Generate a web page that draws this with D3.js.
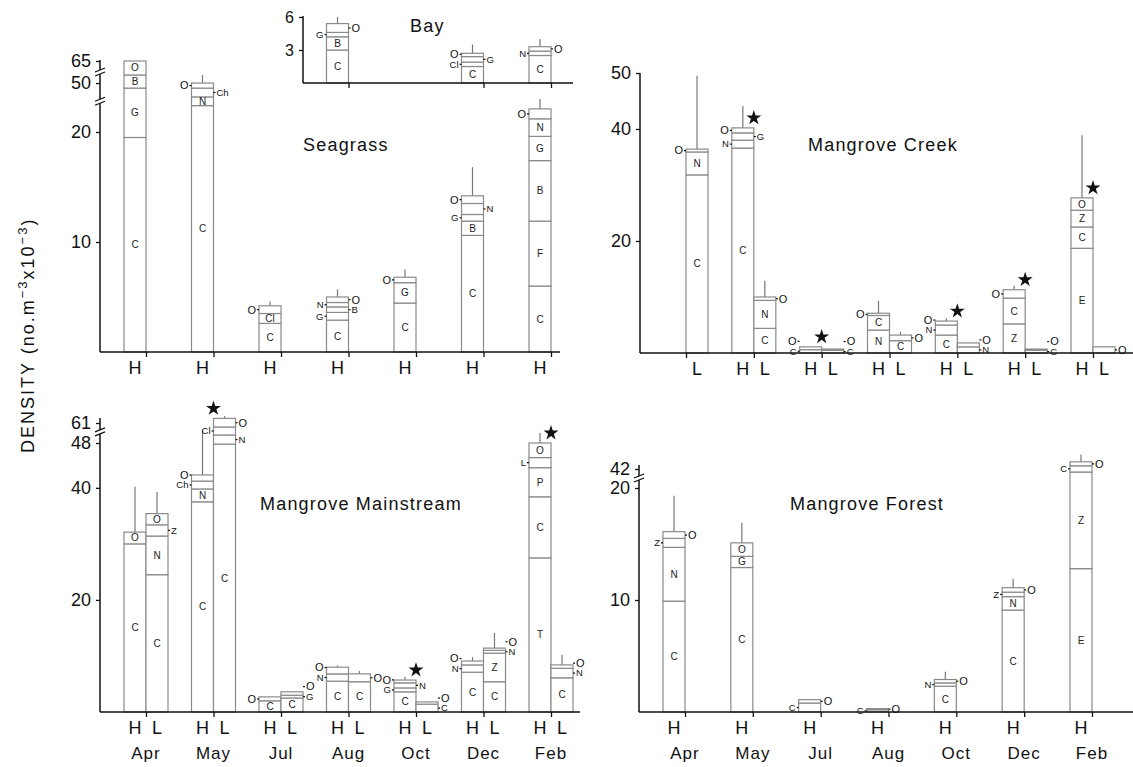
<!DOCTYPE html>
<html lang="en">
<head>
<meta charset="UTF-8">
<title>Zooplankton density by habitat</title>
<script src="https://d3js.org/d3.v7.min.js"></script>
<style>
  body { margin: 0; background: #fff; }
  svg { display: block; }
</style>
</head>
<body>
<div id="chart"></div>
<script>
// months on the shared x axis
const months = ['Apr', 'May', 'Jul', 'Aug', 'Oct', 'Dec', 'Feb'];
const bayMonths = ['Aug', 'Dec', 'Feb'];

// tick labels of each y axis
const seagrassTicks = [10, 20, 50, 65];
const bayTicks = [3, 6];
const creekTicks = [20, 40, 50];
const mainstreamTicks = [20, 40, 48, 61];
const forestTicks = [10, 20, 42];

// each bar: month, tide (H/L), stacked taxa [taxon, density, label side], upper error
const seagrassBars = [
  { m: 'Apr', t: 'H', segs: [['C', 19.5, 'in'], ['G', 24.5, 'in'], ['B', 11.5, 'in'], ['O', 9.5, 'in']], err: null },
  { m: 'May', t: 'H', segs: [['C', 22.4, 'in'], ['N', 4.6, 'in'], ['Ch', 17, 'r'], ['O', 6, 'l']], err: 55.5 },
  { m: 'Jul', t: 'H', segs: [['C', 2.6, 'in'], ['Cl', 0.9, 'in'], ['O', 0.7, 'l']], err: 4.6 },
  { m: 'Aug', t: 'H', segs: [['C', 2.9, 'in'], ['G', 0.7, 'l'], ['B', 0.5, 'r'], ['N', 0.4, 'l'], ['O', 0.5, 'r']], err: 5.7 },
  { m: 'Oct', t: 'H', segs: [['C', 4.45, 'in'], ['G', 1.85, 'in'], ['O', 0.5, 'l']], err: 7.5 },
  { m: 'Dec', t: 'H', segs: [['C', 10.6, 'in'], ['B', 1.3, 'in'], ['G', 0.6, 'l'], ['N', 1.0, 'r'], ['O', 0.7, 'l']], err: 16.8 },
  { m: 'Feb', t: 'H', segs: [['C', 6.0, 'in'], ['F', 5.9, 'in'], ['B', 5.5, 'in'], ['G', 2.2, 'in'], ['N', 1.6, 'in'], ['O', 0.9, 'l']], err: 23.1 }
];

const bayBars = [
  { m: 'Aug', t: 'H', segs: [['C', 3.0, 'in'], ['B', 1.2, 'in'], ['G', 0.4, 'l'], ['O', 0.8, 'r']], err: 6.0 },
  { m: 'Dec', t: 'H', segs: [['C', 1.5, 'in'], ['Cl', 0.4, 'l'], ['G', 0.5, 'r'], ['O', 0.3, 'l']], err: 3.5 },
  { m: 'Feb', t: 'H', segs: [['C', 2.5, 'in'], ['N', 0.4, 'l'], ['O', 0.4, 'r']], err: 4.0 }
];

const creekBars = [
  { m: 'Apr', t: 'L', segs: [['C', 31.8, 'in'], ['N', 4.1, 'in'], ['O', 0.5, 'l']], err: 49.5 },
  { m: 'May', t: 'H', segs: [['C', 36.6, 'in'], ['N', 1.4, 'l'], ['G', 1.3, 'r'], ['O', 0.9, 'l']], err: 44.1 },
  { m: 'May', t: 'L', segs: [['C', 4.4, 'in'], ['N', 5.0, 'in'], ['O', 0.6, 'r']], err: 12.9 },
  { m: 'Jul', t: 'H', segs: [['C', 0.6, 'l'], ['O', 0.5, 'l']], err: null },
  { m: 'Jul', t: 'L', segs: [['C', 0.5, 'r'], ['O', 0.2, 'r']], err: null },
  { m: 'Aug', t: 'H', segs: [['N', 4.1, 'in'], ['C', 2.6, 'in'], ['O', 0.4, 'l']], err: 9.3 },
  { m: 'Aug', t: 'L', segs: [['C', 2.2, 'in'], ['O', 1.0, 'r']], err: 3.8 },
  { m: 'Oct', t: 'H', segs: [['C', 3.2, 'in'], ['N', 1.8, 'l'], ['O', 0.7, 'l']], err: 6.2 },
  { m: 'Oct', t: 'L', segs: [['N', 1.1, 'r'], ['O', 0.7, 'r']], err: null },
  { m: 'Dec', t: 'H', segs: [['Z', 5.2, 'in'], ['C', 4.6, 'in'], ['O', 1.5, 'l']], err: 12.0 },
  { m: 'Dec', t: 'L', segs: [['C', 0.5, 'r'], ['O', 0.2, 'r']], err: null },
  { m: 'Feb', t: 'H', segs: [['E', 18.7, 'in'], ['C', 3.8, 'in'], ['Z', 3.0, 'in'], ['O', 2.2, 'in']], err: 38.9 },
  { m: 'Feb', t: 'L', segs: [['O', 1.1, 'r']], err: null }
];
const creekStars = ['May', 'Jul', 'Oct', 'Dec', 'Feb'];

const mainstreamBars = [
  { m: 'Apr', t: 'H', segs: [['C', 30.0, 'in'], ['O', 2.1, 'in']], err: 40.2 },
  { m: 'Apr', t: 'L', segs: [['C', 24.5, 'in'], ['N', 6.9, 'in'], ['Z', 2.0, 'r'], ['O', 2.0, 'in']], err: 39.3 },
  { m: 'May', t: 'H', segs: [['C', 37.5, 'in'], ['N', 2.3, 'in'], ['Ch', 1.4, 'l'], ['O', 1.1, 'l']], err: 56.5 },
  { m: 'May', t: 'L', segs: [['C', 47.8, 'in'], ['N', 5.4, 'r'], ['Cl', 5.2, 'l'], ['O', 5.6, 'r']], err: 65.5 },
  { m: 'Jul', t: 'H', segs: [['C', 2.0, 'in'], ['O', 0.7, 'l']], err: null },
  { m: 'Jul', t: 'L', segs: [['C', 2.5, 'in'], ['G', 0.5, 'r'], ['O', 0.6, 'r']], err: null },
  { m: 'Aug', t: 'H', segs: [['C', 5.5, 'in'], ['N', 1.3, 'l'], ['O', 1.2, 'l']], err: 8.3 },
  { m: 'Aug', t: 'L', segs: [['C', 5.4, 'in'], ['O', 1.4, 'r']], err: 7.3 },
  { m: 'Oct', t: 'H', segs: [['C', 3.6, 'in'], ['G', 0.7, 'l'], ['N', 0.9, 'r'], ['O', 0.5, 'l']], err: 6.3 },
  { m: 'Oct', t: 'L', segs: [['C', 1.4, 'r'], ['O', 0.4, 'r']], err: null },
  { m: 'Dec', t: 'H', segs: [['C', 7.1, 'in'], ['N', 1.3, 'l'], ['O', 0.7, 'l']], err: 9.8 },
  { m: 'Dec', t: 'L', segs: [['C', 5.4, 'in'], ['Z', 5.1, 'in'], ['N', 0.5, 'r'], ['O', 0.4, 'r']], err: 14.1 },
  { m: 'Feb', t: 'H', segs: [['T', 27.5, 'in'], ['C', 10.9, 'in'], ['P', 5.2, 'in'], ['L', 1.8, 'l'], ['O', 2.6, 'in']], err: 54.5 },
  { m: 'Feb', t: 'L', segs: [['C', 6.1, 'in'], ['N', 1.7, 'r'], ['O', 0.6, 'r']], err: 10.2 }
];
const mainstreamStars = ['May', 'Oct', 'Feb'];

const forestBars = [
  { m: 'Apr', t: 'H', segs: [['C', 9.9, 'in'], ['N', 4.8, 'in'], ['Z', 0.8, 'l'], ['O', 0.6, 'r']], err: 19.3 },
  { m: 'May', t: 'H', segs: [['C', 12.9, 'in'], ['G', 1.0, 'in'], ['O', 1.2, 'in']], err: 16.9 },
  { m: 'Jul', t: 'H', segs: [['C', 0.8, 'l'], ['O', 0.3, 'r']], err: null },
  { m: 'Aug', t: 'H', segs: [['C', 0.2, 'l'], ['O', 0.1, 'r']], err: null },
  { m: 'Oct', t: 'H', segs: [['C', 2.3, 'in'], ['N', 0.3, 'l'], ['O', 0.3, 'r']], err: 3.6 },
  { m: 'Dec', t: 'H', segs: [['C', 9.1, 'in'], ['N', 1.2, 'in'], ['Z', 0.4, 'l'], ['O', 0.4, 'r']], err: 11.9 },
  { m: 'Feb', t: 'H', segs: [['E', 12.8, 'in'], ['Z', 25.7, 'in'], ['C', 4.3, 'l'], ['O', 1.0, 'r']], err: 45.6 }
];

const font = "'Liberation Sans', Arial, Helvetica, sans-serif";
const ink = '#111';
const barStroke = '#8a8a8a';
const barW = 22;

const svg = d3.select('#chart').append('svg')
  .attr('width', 1133).attr('height', 767)
  .style('font-family', font);

// y scales are piecewise where the original axis is broken
const panels = [
  { title: 'Seagrass', bars: seagrassBars, ticks: seagrassTicks, stars: [],
    xr: [146, 551], x0: 100, x1: 560, yd: [0, 23, 48, 65], yr: [352, 99, 86, 61], axisTop: 60,
    breaks: [22.8, 57.5], tpos: [303, 151], tickFont: 18, hl: true, monthsRow: false },
  { title: 'Bay', bars: bayBars, ticks: bayTicks, stars: [], tickMonths: bayMonths,
    xr: [146, 551], x0: 303, x1: 573, yd: [0, 6], yr: [83, 17], axisTop: 16,
    breaks: [], tpos: [410, 32], tickFont: 16, hl: false, monthsRow: false },
  { title: 'Mangrove Creek', bars: creekBars, ticks: creekTicks, stars: creekStars,
    xr: [686, 1093], x0: 640, x1: 1133, yd: [0, 50], yr: [353, 73], axisTop: 73,
    breaks: [], tpos: [808, 151], tickFont: 18, hl: true, monthsRow: false },
  { title: 'Mangrove Mainstream', bars: mainstreamBars, ticks: mainstreamTicks, stars: mainstreamStars,
    xr: [146, 551], x0: 100, x1: 580, yd: [0, 48, 61, 66], yr: [712, 443, 423, 415.3], axisTop: 418,
    breaks: [55.2], tpos: [260, 510], tickFont: 18, hl: true, monthsRow: true },
  { title: 'Mangrove Forest', bars: forestBars, ticks: forestTicks, stars: [],
    xr: [685, 1092], x0: 639, x1: 1133, yd: [0, 20, 42, 46], yr: [712, 488, 469, 453], axisTop: 465,
    breaks: [31.6], tpos: [790, 510], tickFont: 18, hl: true, monthsRow: true }
];

function drawPanel(p) {
  const g = svg.append('g');
  const x = d3.scalePoint().domain(months).range(p.xr);
  const y = d3.scaleLinear().domain(p.yd).range(p.yr);
  const base = y(0);

  // y axis
  const ya = g.append('g').attr('transform', `translate(${p.x0},0)`)
    .call(d3.axisLeft(y).tickValues(p.ticks).tickSize(4).tickPadding(5).tickFormat(d3.format('d')));
  ya.select('.domain').remove();
  ya.selectAll('line').attr('stroke', ink).attr('stroke-width', 1.3);
  ya.selectAll('text').attr('font-size', p.tickFont).attr('font-family', font).attr('fill', ink);
  g.append('line').attr('x1', p.x0).attr('x2', p.x0).attr('y1', base).attr('y2', p.axisTop)
    .attr('stroke', ink).attr('stroke-width', 1.5);

  // axis breaks
  p.breaks.forEach(v => {
    const yy = y(v);
    g.append('rect').attr('x', p.x0 - 2).attr('y', yy - 2).attr('width', 4).attr('height', 4).attr('fill', '#fff');
    [-2, 2].forEach(o => {
      g.append('line').attr('x1', p.x0 - 5).attr('x2', p.x0 + 5)
        .attr('y1', yy + o + 2).attr('y2', yy + o - 2)
        .attr('stroke', ink).attr('stroke-width', 1.2);
    });
  });

  // bars
  p.bars.forEach(b => {
    const bx = b.t === 'H' ? x(b.m) - barW : x(b.m);
    const cx = bx + barW / 2;
    let cum = 0;
    const segs = b.segs.map(([name, v, side]) => {
      const s = { name, lo: cum, hi: cum + v, side };
      cum += v;
      return s;
    });
    if (b.err) {
      g.append('line').attr('x1', cx).attr('x2', cx).attr('y1', y(cum)).attr('y2', y(b.err))
        .attr('stroke', '#777').attr('stroke-width', 1.2);
    }
    g.selectAll(null).data(segs).enter().append('rect')
      .attr('x', bx).attr('y', d => y(d.hi))
      .attr('width', barW).attr('height', d => Math.max(0.5, y(d.lo) - y(d.hi)))
      .attr('fill', '#fff').attr('stroke', barStroke).attr('stroke-width', 1.2);

    let prevL = Infinity, prevR = Infinity;
    segs.forEach(s => {
      let ly = (y(s.lo) + y(s.hi)) / 2;
      if (s.side === 'in') {
        g.append('text').attr('x', cx).attr('y', ly).attr('dy', '0.35em')
          .attr('text-anchor', 'middle').attr('font-size', 10).attr('fill', '#222').text(s.name);
        return;
      }
      const left = s.side === 'l';
      if (left) { ly = Math.min(ly, prevL - 10); prevL = ly; }
      else { ly = Math.min(ly, prevR - 10); prevR = ly; }
      const ex = left ? bx : bx + barW;
      const dir = left ? -1 : 1;
      g.append('line').attr('x1', ex).attr('x2', ex + dir * 2).attr('y1', ly).attr('y2', ly)
        .attr('stroke', ink).attr('stroke-width', 1.2);
      g.append('text').attr('x', ex + dir * 3).attr('y', ly).attr('dy', '0.35em')
        .attr('text-anchor', left ? 'end' : 'start')
        .attr('font-size', s.name === 'O' ? 11 : 9.5).attr('fill', ink).text(s.name);
    });
  });

  // x axis
  const xa = g.append('g').attr('transform', `translate(0,${base})`)
    .call(d3.axisBottom(x).tickValues(p.tickMonths || months).tickSize(5).tickFormat(''));
  xa.select('.domain').remove();
  xa.selectAll('line').attr('stroke', ink).attr('stroke-width', 1.3);
  g.append('line').attr('x1', p.x0).attr('x2', p.x1).attr('y1', base).attr('y2', base)
    .attr('stroke', ink).attr('stroke-width', 1.5);

  // stars mark significant H/L difference
  p.stars.forEach(m => {
    const top = d3.min(p.bars.filter(b => b.m === m), b => y(d3.sum(b.segs, s => s[1])));
    g.append('path').attr('d', d3.symbol(d3.symbolStar, 70)())
      .attr('transform', `translate(${x(m)},${top - 10})`).attr('fill', ink);
  });

  // tide and month labels
  if (p.hl) {
    months.forEach(m => {
      const tides = new Set(p.bars.filter(b => b.m === m).map(b => b.t));
      tides.forEach(t => {
        g.append('text').attr('x', x(m) + (t === 'H' ? -11 : 11)).attr('y', base + 22)
          .attr('text-anchor', 'middle').attr('font-size', 18).attr('fill', ink).text(t);
      });
    });
  }
  if (p.monthsRow) {
    months.forEach(m => {
      g.append('text').attr('x', x(m)).attr('y', base + 47)
        .attr('text-anchor', 'middle').attr('font-size', 17).attr('letter-spacing', 1)
        .attr('fill', ink).text(m);
    });
  }

  g.append('text').attr('x', p.tpos[0]).attr('y', p.tpos[1])
    .attr('font-size', 18).attr('letter-spacing', 1.2).attr('fill', ink).text(p.title);
}

panels.forEach(drawPanel);

// shared y label
const yl = svg.append('text')
  .attr('transform', 'translate(34,453) rotate(-90)')
  .attr('font-size', 18).attr('letter-spacing', 2).attr('fill', ink);
yl.append('tspan').text('DENSITY (no.m');
yl.append('tspan').attr('baseline-shift', 'super').attr('font-size', 13).text('−3');
yl.append('tspan').text('x10');
yl.append('tspan').attr('baseline-shift', 'super').attr('font-size', 13).text('−3');
yl.append('tspan').text(')');
</script>
</body>
</html>
